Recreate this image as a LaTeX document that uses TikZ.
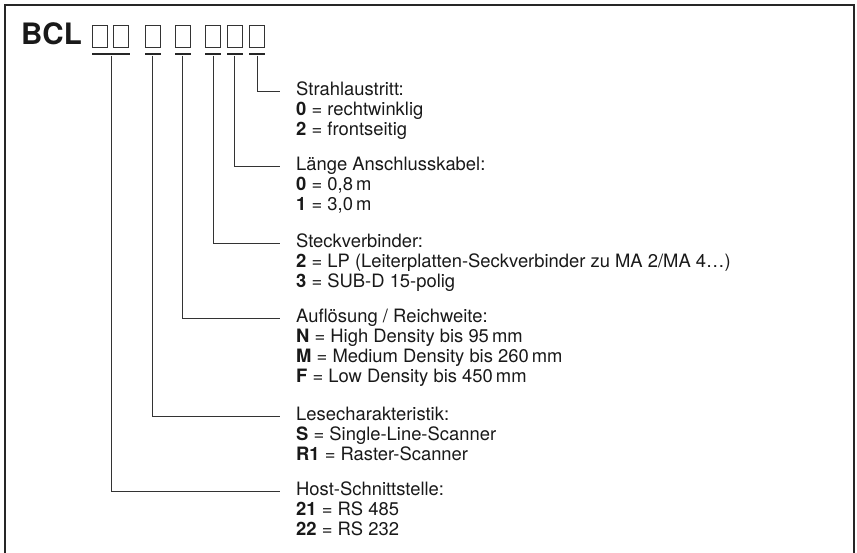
\documentclass[tikz,border=0pt]{standalone}
\usepackage{fontspec}
\setmainfont{TeX Gyre Heros}
\begin{document}
\begin{tikzpicture}[x=1pt,y=-1pt,
  code/.style={draw=black!80, line width=0.8pt, minimum width=15pt, minimum height=22pt, inner sep=0pt},
  bar/.style={fill=black!85, inner sep=0pt, minimum height=2.6pt},
  lbl/.style={anchor=base west, inner sep=0pt, font=\fontsize{18.4}{20}\selectfont, text=black!90},
  conn/.style={draw=black!80, line width=1pt}]
\useasboundingbox (0,0) rectangle (857,552);
\draw[line width=1.3pt, black!85] (5,570) -- (5,5) -- (854,5) -- (854,570);
\node[anchor=base west, inner sep=0pt, font=\fontsize{29.5}{31}\selectfont\bfseries, text=black!90] (bcl) at (21,44) {BCL};
% code boxes
\node[code] (c1) at (99.5,36) {};
\node[code] (c2) at (120.5,36) {};
\node[code] (c3) at (152.5,36) {};
\node[code] (c4) at (182.5,36) {};
\node[code] (c5) at (212.5,36) {};
\node[code] (c6) at (234.5,36) {};
\node[code] (c7) at (256.5,36) {};
% bars
\node[bar, minimum width=38pt] (b1) at (111,54) {};
\node[bar, minimum width=16pt] (b2) at (152.5,54) {};
\node[bar, minimum width=16pt] (b3) at (182.5,54) {};
\node[bar, minimum width=16pt] (b4) at (213,54) {};
\node[bar, minimum width=16pt] (b5) at (234.5,54) {};
\node[bar, minimum width=16pt] (b6) at (257,54) {};
% labels
\node[lbl] (t1) at (296,95) {Strahlaustritt:};
\node[lbl] (t1a) at (296,115) {\textbf{0} = rechtwinklig};
\node[lbl] (t1b) at (296,135) {\textbf{2} = frontseitig};
\node[lbl] (t2) at (296,170) {Länge Anschlusskabel:};
\node[lbl] (t2a) at (296,190) {\textbf{0} = 0,8\,m};
\node[lbl] (t2b) at (296,210) {\textbf{1} = 3,0\,m};
\node[lbl] (t3) at (296,247) {Steckverbinder:};
\node[lbl] (t3a) at (296,267) {\textbf{2} = LP (Leiterplatten-Seckverbinder zu MA 2/MA 4…)};
\node[lbl] (t3b) at (296,287) {\textbf{3} = SUB-D 15-polig};
\node[lbl] (t4) at (296,322) {Auflösung / Reichweite:};
\node[lbl] (t4a) at (296,342) {\textbf{N} = High Density bis 95\,mm};
\node[lbl] (t4b) at (296,362) {\textbf{M} = Medium Density bis 260\,mm};
\node[lbl] (t4c) at (296,382) {\textbf{F} = Low Density bis 450\,mm};
\node[lbl] (t5) at (296,420) {Lesecharakteristik:};
\node[lbl] (t5a) at (296,440) {\textbf{S} = Single-Line-Scanner};
\node[lbl] (t5b) at (296,460) {\textbf{R1} = Raster-Scanner};
\node[lbl] (t6) at (296,495) {Host-Schnittstelle:};
\node[lbl] (t6a) at (296,515) {\textbf{21} = RS 485};
\node[lbl] (t6b) at (296,535) {\textbf{22} = RS 232};
% connectors
\draw[conn] (b6.south) |- ([shift={(-16,-3.5)}]t1.base west);
\draw[conn] (b5.south) |- ([shift={(-16,-3.5)}]t2.base west);
\draw[conn] (b4.south) |- ([shift={(-16,-3.5)}]t3.base west);
\draw[conn] (b3.south) |- ([shift={(-16,-3.5)}]t4.base west);
\draw[conn] (b2.south) |- ([shift={(-16,-3.5)}]t5.base west);
\draw[conn] (b1.south) |- ([shift={(-16,-3.5)}]t6.base west);
\end{tikzpicture}
\end{document}
